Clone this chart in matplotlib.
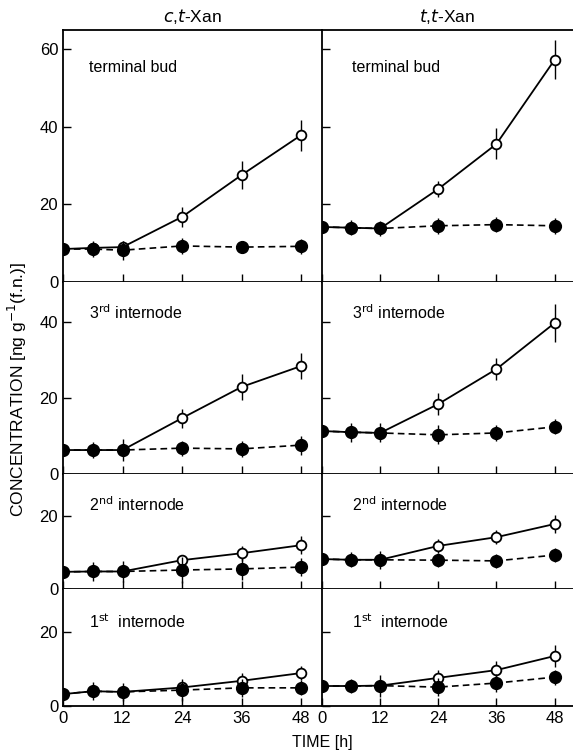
import matplotlib
matplotlib.use('Agg')
import matplotlib.pyplot as plt

plt.rcParams['font.family'] = ['Liberation Sans', 'DejaVu Sans']

# 时间点 (h)
hours = [0, 6, 12, 24, 36, 48]

# 各组织名称
tissues = ['terminal bud', '3$^{\\mathrm{rd}}$ internode',
           '2$^{\\mathrm{nd}}$ internode', '1$^{\\mathrm{st}}$  internode']
columns = ['$c$,$t$-Xan', '$t$,$t$-Xan']

# c,t-Xan: 空心 = open, 实心 = filled
ct_open = [
    [8.5, 8.8, 9.0, 16.8, 27.6, 37.9],
    [6.3, 6.3, 6.3, 14.7, 22.9, 28.4],
    [4.7, 4.8, 4.8, 7.9, 9.8, 12.0],
    [3.2, 4.0, 3.8, 5.0, 6.8, 8.9],
]
ct_open_err = [
    [1, 1, 1.5, 2.5, 3.5, 4],
    [1, 1, 1, 2.5, 3.5, 3.5],
    [1, 1, 1, 1.5, 2, 2.5],
    [1, 1, 1, 1.5, 2, 2],
]
ct_filled = [
    [8.5, 8.5, 8.2, 9.3, 9.0, 9.2],
    [6.3, 6.3, 6.3, 6.8, 6.6, 7.6],
    [4.7, 4.8, 4.8, 5.2, 5.5, 6.0],
    [3.2, 4.0, 3.8, 4.3, 4.9, 4.9],
]
ct_filled_err = [
    [1, 2, 2.5, 2, 1.5, 2],
    [1.5, 2, 3, 2, 2, 2.5],
    [1, 2.5, 3, 3.5, 3, 2.5],
    [1, 2.5, 2.5, 3, 2.5, 2],
]

# t,t-Xan
tt_open = [
    [14.2, 14.0, 13.8, 24.0, 35.6, 57.3],
    [11.3, 11.0, 10.8, 18.4, 27.6, 39.7],
    [8.2, 8.0, 8.0, 11.8, 14.2, 17.8],
    [5.4, 5.4, 5.5, 7.6, 9.7, 13.5],
]
tt_open_err = [
    [1, 1, 1, 2, 4, 5],
    [1, 1, 1, 3, 3, 5],
    [1, 1, 1, 2, 2, 2.5],
    [1, 1, 1, 2, 2.5, 3],
]
tt_filled = [
    [14.2, 14.0, 13.8, 14.5, 14.8, 14.5],
    [11.3, 11.0, 10.8, 10.3, 10.8, 12.4],
    [8.2, 8.0, 8.0, 7.9, 7.7, 9.3],
    [5.4, 5.4, 5.5, 5.1, 6.2, 7.8],
]
tt_filled_err = [
    [1.5, 2, 2, 2, 2, 2],
    [1.5, 2.5, 2.5, 2.5, 2, 2],
    [1.5, 2, 2.5, 2, 2, 2],
    [1.5, 2, 3, 2.5, 2.5, 2],
]

# 纵轴上限与刻度
ymax = [65, 50.5, 31.5, 31.6]
yticks = [[0, 20, 40, 60], [0, 20, 40], [0, 20], [0, 20]]
# 标签纵向位置 (axes 坐标)
label_y = [0.85, 0.84, 0.73, 0.72]

fig = plt.figure(figsize=(5.73, 7.56), dpi=100)
gs = fig.add_gridspec(4, 2, left=63/573, right=1.0, bottom=1-706/756, top=1-30/756,
                      hspace=0, wspace=0, height_ratios=[252, 192, 115, 117],
                      width_ratios=[259, 251])

data = [(ct_open, ct_open_err, ct_filled, ct_filled_err),
        (tt_open, tt_open_err, tt_filled, tt_filled_err)]
xmax = [52.2, 51.8]

for c in range(2):
    o, oe, f, fe = data[c]
    for r in range(4):
        ax = fig.add_subplot(gs[r, c])
        ax.errorbar(hours, o[r], yerr=oe[r], color='black', lw=1.3, ls='-',
                    marker='o', ms=7, mfc='white', mec='black', mew=1.3,
                    elinewidth=1, capsize=0, zorder=2)
        ax.errorbar(hours, f[r], yerr=fe[r], color='black', lw=1.2, ls=(0, (4, 2.5)),
                    marker='o', ms=8.5, mfc='black', mec='black',
                    elinewidth=1, capsize=0, zorder=3)
        ax.set_xlim(0, xmax[c])
        ax.set_ylim(0, ymax[r])
        ax.set_xticks([0, 12, 24, 36, 48])
        ax.set_yticks(yticks[r])
        ax.tick_params(direction='in', length=6, width=1, labelsize=12)
        ax.spines['right'].set_visible(False)
        for s in ['left', 'bottom', 'top']:
            ax.spines[s].set_linewidth(1.3)
        if r > 0:
            ax.spines['top'].set_visible(False)
        if c == 1:
            ax.tick_params(labelleft=False)
        if r < 3:
            ax.tick_params(labelbottom=False)
        ax.text(0.1 if c == 0 else 0.12, label_y[r], tissues[r],
                transform=ax.transAxes, fontsize=11.5, va='center', ha='left')
        if r == 0:
            ax.set_title(columns[c], fontsize=12.5, pad=6)

fig.text(0.03, 1 - 390/756, 'CONCENTRATION [ng g$^{-1}$(f.n.)]', rotation=90,
         ha='center', va='center', fontsize=12.5)
fig.text(322/573, 1 - 743/756, 'TIME [h]', ha='center', va='center', fontsize=11.5)

fig.savefig('out.png', dpi=100)
